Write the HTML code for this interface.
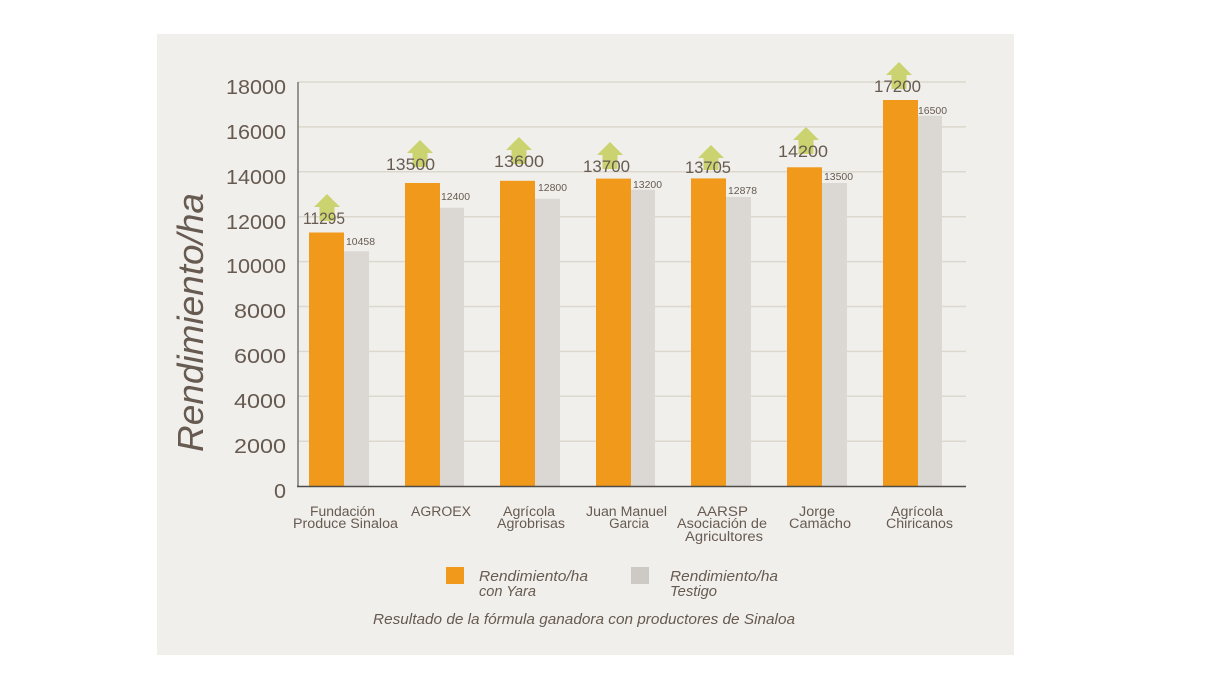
<!DOCTYPE html>
<html><head><meta charset="utf-8"><style>
html,body{margin:0;padding:0;background:#fff;}
svg{display:block;}
text{font-family:"Liberation Sans",sans-serif;fill:#665a51;}
</style></head><body>
<svg width="1231" height="674" viewBox="0 0 1231 674" xmlns="http://www.w3.org/2000/svg">
<rect x="157" y="34" width="857" height="621" fill="#f1efeb"/>
<!-- grid -->
<g stroke="#dcd8cd" stroke-width="1.5">
<line x1="298" y1="82" x2="966" y2="82"/>
<line x1="298" y1="126.9" x2="966" y2="126.9"/>
<line x1="298" y1="171.8" x2="966" y2="171.8"/>
<line x1="298" y1="216.7" x2="966" y2="216.7"/>
<line x1="298" y1="261.6" x2="966" y2="261.6"/>
<line x1="298" y1="306.5" x2="966" y2="306.5"/>
<line x1="298" y1="351.4" x2="966" y2="351.4"/>
<line x1="298" y1="396.3" x2="966" y2="396.3"/>
<line x1="298" y1="441.2" x2="966" y2="441.2"/>
</g>
<!-- bars -->
<g fill="#f0991b">
<rect x="309" y="232.5" width="35" height="253.5"/>
<rect x="405" y="183" width="35" height="303"/>
<rect x="500" y="180.8" width="35" height="305.2"/>
<rect x="596" y="178.6" width="35" height="307.4"/>
<rect x="691" y="178.4" width="35" height="307.6"/>
<rect x="787" y="167.3" width="35" height="318.7"/>
<rect x="883" y="100" width="35" height="386"/>
</g>
<g fill="#dbd7d2">
<rect x="344" y="251.3" width="25" height="234.7"/>
<rect x="440" y="207.7" width="24" height="278.3"/>
<rect x="535" y="198.7" width="25" height="287.3"/>
<rect x="631" y="189.7" width="24" height="296.3"/>
<rect x="726" y="197" width="25" height="289"/>
<rect x="822" y="183" width="25" height="303"/>
<rect x="918" y="115.7" width="24" height="370.3"/>
</g>
<!-- axes -->
<line x1="298" y1="82" x2="298" y2="486" stroke="#7d7772" stroke-width="1.5"/>
<line x1="297" y1="486.5" x2="966" y2="486.5" stroke="#4f4b48" stroke-width="1.5"/>
<!-- arrows -->
<g fill="#cad36f">
<path d="M327 194 L340 207 L334.5 207 L334.5 221 L319.5 221 L319.5 207 L314 207 Z"/>
<path d="M420 140 L433 153 L427.5 153 L427.5 167 L412.5 167 L412.5 153 L407 153 Z"/>
<path d="M519 137 L532 150 L526.5 150 L526.5 164 L511.5 164 L511.5 150 L506 150 Z"/>
<path d="M610 142 L623 155 L617.5 155 L617.5 169 L602.5 169 L602.5 155 L597 155 Z"/>
<path d="M711 145 L724 158 L718.5 158 L718.5 170 L703.5 170 L703.5 158 L698 158 Z"/>
<path d="M806 127 L819 140 L813.5 140 L813.5 154 L798.5 154 L798.5 140 L793 140 Z"/>
<path d="M899 62 L912 75 L906.5 75 L906.5 89 L891.5 89 L891.5 75 L886 75 Z"/>
</g>
<!-- big value labels -->
<g font-size="17" style="fill:#62574f">
<text x="303" y="224" textLength="42" lengthAdjust="spacingAndGlyphs">11295</text>
<text x="386" y="170" textLength="49" lengthAdjust="spacingAndGlyphs">13500</text>
<text x="494" y="167" textLength="50" lengthAdjust="spacingAndGlyphs">13600</text>
<text x="583" y="172" textLength="47" lengthAdjust="spacingAndGlyphs">13700</text>
<text x="685" y="173" textLength="46" lengthAdjust="spacingAndGlyphs">13705</text>
<text x="778" y="157" textLength="50" lengthAdjust="spacingAndGlyphs">14200</text>
<text x="874" y="92" textLength="47" lengthAdjust="spacingAndGlyphs">17200</text>
</g>
<!-- small labels -->
<g font-size="10">
<text x="346" y="245" textLength="29" lengthAdjust="spacingAndGlyphs">10458</text>
<text x="441" y="200" textLength="29" lengthAdjust="spacingAndGlyphs">12400</text>
<text x="538" y="191" textLength="29" lengthAdjust="spacingAndGlyphs">12800</text>
<text x="633" y="188" textLength="29" lengthAdjust="spacingAndGlyphs">13200</text>
<text x="728" y="194" textLength="29" lengthAdjust="spacingAndGlyphs">12878</text>
<text x="824" y="180" textLength="29" lengthAdjust="spacingAndGlyphs">13500</text>
<text x="918" y="114" textLength="29" lengthAdjust="spacingAndGlyphs">16500</text>
</g>
<!-- y tick labels -->
<g font-size="20" text-anchor="end">
<text x="286" y="94" textLength="60" lengthAdjust="spacingAndGlyphs">18000</text>
<text x="286" y="139" textLength="60" lengthAdjust="spacingAndGlyphs">16000</text>
<text x="286" y="184" textLength="60" lengthAdjust="spacingAndGlyphs">14000</text>
<text x="286" y="229" textLength="60" lengthAdjust="spacingAndGlyphs">12000</text>
<text x="286" y="273" textLength="60" lengthAdjust="spacingAndGlyphs">10000</text>
<text x="286" y="318" textLength="52" lengthAdjust="spacingAndGlyphs">8000</text>
<text x="286" y="363" textLength="52" lengthAdjust="spacingAndGlyphs">6000</text>
<text x="286" y="408" textLength="52" lengthAdjust="spacingAndGlyphs">4000</text>
<text x="286" y="453" textLength="52" lengthAdjust="spacingAndGlyphs">2000</text>
<text x="286" y="498" textLength="12" lengthAdjust="spacingAndGlyphs">0</text>
</g>
<!-- y title -->
<text transform="translate(203,452) rotate(-90)" font-size="36" font-style="italic" textLength="259" lengthAdjust="spacingAndGlyphs">Rendimiento/ha</text>
<!-- x labels -->
<g font-size="13.5">
<text x="310" y="516" textLength="65" lengthAdjust="spacingAndGlyphs">Fundación</text>
<text x="293" y="528" textLength="105" lengthAdjust="spacingAndGlyphs">Produce Sinaloa</text>
<text x="411" y="516" textLength="60" lengthAdjust="spacingAndGlyphs">AGROEX</text>
<text x="503" y="516" textLength="52" lengthAdjust="spacingAndGlyphs">Agrícola</text>
<text x="497" y="528" textLength="68" lengthAdjust="spacingAndGlyphs">Agrobrisas</text>
<text x="586" y="516" textLength="81" lengthAdjust="spacingAndGlyphs">Juan Manuel</text>
<text x="629" y="528" text-anchor="middle">Garcia</text>
<text x="697" y="516" textLength="51" lengthAdjust="spacingAndGlyphs">AARSP</text>
<text x="677" y="528" textLength="90" lengthAdjust="spacingAndGlyphs">Asociación de</text>
<text x="685" y="541" textLength="78" lengthAdjust="spacingAndGlyphs">Agricultores</text>
<text x="799" y="516" textLength="36" lengthAdjust="spacingAndGlyphs">Jorge</text>
<text x="789" y="528" textLength="62" lengthAdjust="spacingAndGlyphs">Camacho</text>
<text x="891" y="516" textLength="52" lengthAdjust="spacingAndGlyphs">Agrícola</text>
<text x="886" y="528" textLength="67" lengthAdjust="spacingAndGlyphs">Chiricanos</text>
</g>
<!-- legend -->
<rect x="446" y="567" width="18" height="17" fill="#f0991b"/>
<rect x="631" y="567" width="18" height="17" fill="#cdc9c4"/>
<g font-size="14.5" font-style="italic">
<text x="479" y="581" textLength="109" lengthAdjust="spacingAndGlyphs">Rendimiento/ha</text>
<text x="479" y="596" textLength="57" lengthAdjust="spacingAndGlyphs">con Yara</text>
<text x="670" y="581" textLength="108" lengthAdjust="spacingAndGlyphs">Rendimiento/ha</text>
<text x="670" y="596" textLength="47" lengthAdjust="spacingAndGlyphs">Testigo</text>
<text x="373" y="624" textLength="422" lengthAdjust="spacingAndGlyphs">Resultado de la fórmula ganadora con productores de Sinaloa</text>
</g>
</svg>
</body></html>
